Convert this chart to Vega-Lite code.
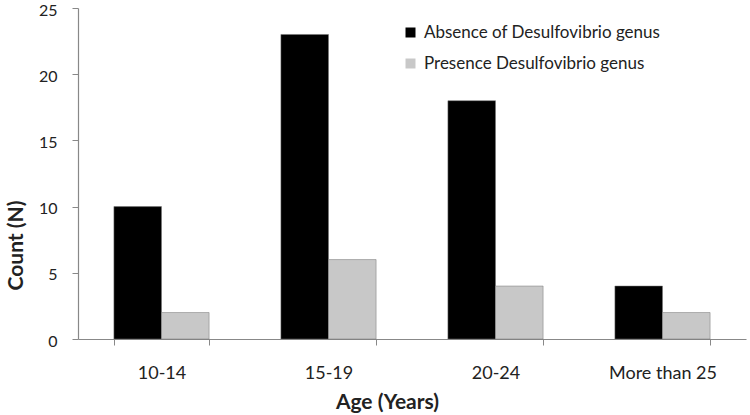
{
  "$schema": "https://vega.github.io/schema/vega-lite/v6.json",
  "width": 668,
  "height": 331,
  "autosize": {"type": "none"},
  "padding": {"left": 78, "top": 8, "right": 4, "bottom": 76},
  "background": "white",
  "config": {
    "font": "Lato",
    "view": {"stroke": null}
  },
  "data": {
    "values": [
      {"age": "10-14", "group": "Absence of Desulfovibrio genus", "count": 10},
      {"age": "10-14", "group": "Presence Desulfovibrio genus", "count": 2},
      {"age": "15-19", "group": "Absence of Desulfovibrio genus", "count": 23},
      {"age": "15-19", "group": "Presence Desulfovibrio genus", "count": 6},
      {"age": "20-24", "group": "Absence of Desulfovibrio genus", "count": 18},
      {"age": "20-24", "group": "Presence Desulfovibrio genus", "count": 4},
      {"age": "More than 25", "group": "Absence of Desulfovibrio genus", "count": 4},
      {"age": "More than 25", "group": "Presence Desulfovibrio genus", "count": 2}
    ]
  },
  "mark": {"type": "bar", "stroke": "#777", "strokeWidth": 0.5},
  "encoding": {
    "x": {
      "field": "age",
      "type": "nominal",
      "sort": null,
      "scale": {"paddingInner": 0.43, "paddingOuter": 0.215},
      "axis": {
        "title": "Age (Years)",
        "titleFontSize": 21,
        "titleFontWeight": "bold",
        "titleColor": "#222",
        "titleX": 309,
        "titleY": 63,
        "titleAlign": "center",
        "titleBaseline": "middle",
        "labelAngle": 0,
        "labelFontSize": 18,
        "labelColor": "#222",
        "labelPadding": 19,
        "tickBand": "extent",
        "tickSize": 6,
        "tickColor": "#888",
        "domainColor": "#888",
        "domainWidth": 1.2
      }
    },
    "xOffset": {"field": "group", "type": "nominal"},
    "y": {
      "field": "count",
      "type": "quantitative",
      "scale": {"domain": [0, 25]},
      "axis": {
        "title": "Count (N)",
        "titleFontSize": 21,
        "titleFontWeight": "bold",
        "titleColor": "#222",
        "titleAngle": -90,
        "titleX": -62,
        "titleY": 237,
        "titleAlign": "center",
        "titleBaseline": "middle",
        "values": [0, 5, 10, 15, 20, 25],
        "labelFontSize": 16,
        "labelColor": "#222",
        "labelPadding": 15,
        "labelOffset": 2,
        "tickSize": 6,
        "tickColor": "#888",
        "domainColor": "#888",
        "domainWidth": 1.2,
        "grid": false
      }
    },
    "color": {
      "field": "group",
      "type": "nominal",
      "scale": {
        "domain": ["Absence of Desulfovibrio genus", "Presence Desulfovibrio genus"],
        "range": ["#000000", "#c8c8c8"]
      },
      "legend": {
        "title": null,
        "orient": "none",
        "legendX": 324,
        "legendY": 16,
        "symbolType": "square",
        "symbolSize": 100,
        "symbolStrokeWidth": 0,
        "labelFontSize": 17,
        "labelColor": "#222",
        "labelOffset": 5,
        "labelLimit": 0,
        "rowPadding": 13
      }
    }
  }
}
